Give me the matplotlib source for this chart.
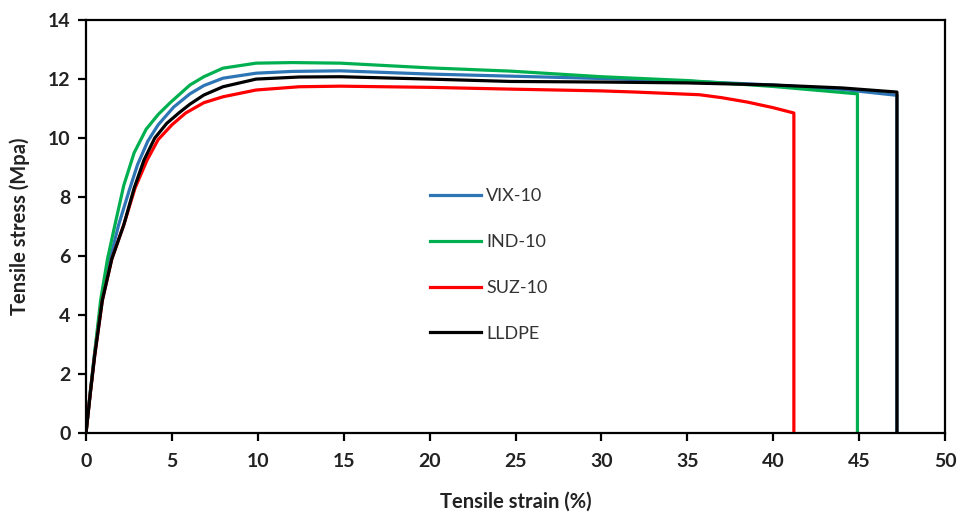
import matplotlib
matplotlib.use("Agg")
import matplotlib.pyplot as plt

# Tensile stress-strain curves (strain %, stress MPa)
vix_strain = [0, 0.25, 0.5, 0.9, 1.4, 1.9, 2.5, 3.0, 3.6, 4.2, 5.1, 6.05, 6.86, 7.97, 9.9,
              12, 14.8, 20, 24.7, 30, 35, 40, 44, 47.2, 47.2]
vix_stress = [0, 1.4, 2.7, 4.5, 5.9, 7.06, 8.2, 9.1, 9.9, 10.45, 11.05, 11.5, 11.78, 12.03, 12.2,
              12.26, 12.28, 12.17, 12.1, 12.02, 11.93, 11.8, 11.65, 11.45, 0]

ind_strain = [0, 0.25, 0.5, 0.85, 1.25, 1.7, 2.2, 2.8, 3.5, 4.2, 4.9, 6.05, 6.86, 7.97, 9.9, 12,
              14.8, 20, 24.7, 30, 35, 40, 44.9, 44.9]
ind_stress = [0, 1.4, 2.7, 4.5, 5.9, 7.1, 8.4, 9.5, 10.3, 10.8, 11.2, 11.8, 12.08, 12.37, 12.54,
              12.56, 12.54, 12.38, 12.27, 12.08, 11.95, 11.75, 11.5, 0]

suz_strain = [0, 0.25, 0.5, 0.95, 1.5, 2.2, 2.85, 3.55, 4.2, 5.0, 5.8, 6.86, 7.97, 9.9, 12.4,
              14.8, 20, 24.7, 30, 32, 35.7, 37, 38.5, 40, 41.2, 41.2]
suz_stress = [0, 1.35, 2.6, 4.5, 5.9, 7.06, 8.3, 9.25, 9.95, 10.45, 10.85, 11.2, 11.4, 11.63,
              11.74, 11.76, 11.72, 11.66, 11.6, 11.56, 11.47, 11.37, 11.22, 11.03, 10.85, 0]

lldpe_strain = [0, 0.25, 0.5, 0.95, 1.5, 2.2, 2.8, 3.37, 4.0, 4.7, 5.4, 6.05, 6.86, 7.97, 9.9,
                12.4, 14.8, 20, 24.7, 30, 35, 40, 44, 47.2, 47.2]
lldpe_stress = [0, 1.35, 2.6, 4.5, 5.9, 7.06, 8.3, 9.25, 10.0, 10.5, 10.85, 11.15, 11.46, 11.74,
                12.0, 12.07, 12.08, 12.0, 11.92, 11.9, 11.87, 11.8, 11.7, 11.56, 0]

plt.rcParams['font.family'] = ['Lato', 'DejaVu Sans']

fig = plt.figure(figsize=(9.62, 5.15), dpi=100)
ax = fig.add_axes([0.0894, 0.159, 0.893, 0.802])

lw = 2.3
ax.plot(vix_strain, vix_stress, color='#2E75B6', lw=lw, label='VIX-10')
ax.plot(ind_strain, ind_stress, color='#00B050', lw=lw, label='IND-10')
ax.plot(suz_strain, suz_stress, color='#FF0000', lw=lw, label='SUZ-10')
ax.plot(lldpe_strain, lldpe_stress, color='black', lw=lw, label='LLDPE')

ax.set_xlim(0, 50)
ax.set_ylim(0, 14)
ax.set_xticks(range(0, 51, 5))
ax.set_yticks(range(0, 15, 2))

for s in ax.spines.values():
    s.set_linewidth(1.6)
ax.tick_params(direction='out', length=6, width=1.6, labelsize=14, pad=5)
ax.tick_params(axis='x', pad=8)
for lab in ax.get_xticklabels() + ax.get_yticklabels():
    lab.set_fontweight('bold')
    lab.set_color('#222222')

ax.set_xlabel('Tensile strain (%)', fontsize=14.5, fontweight='bold', labelpad=16, color='#222222')
ax.set_ylabel('Tensile stress (Mpa)', fontsize=14.5, fontweight='bold', labelpad=13, color='#222222')

leg = ax.legend(loc='upper left', bbox_to_anchor=(0.382, 0.632), frameon=False, fontsize=13,
                labelspacing=1.65, handlelength=2.8, handletextpad=0.3)
for t in leg.get_texts():
    t.set_color('#333333')

fig.savefig('out.png', dpi=100)
